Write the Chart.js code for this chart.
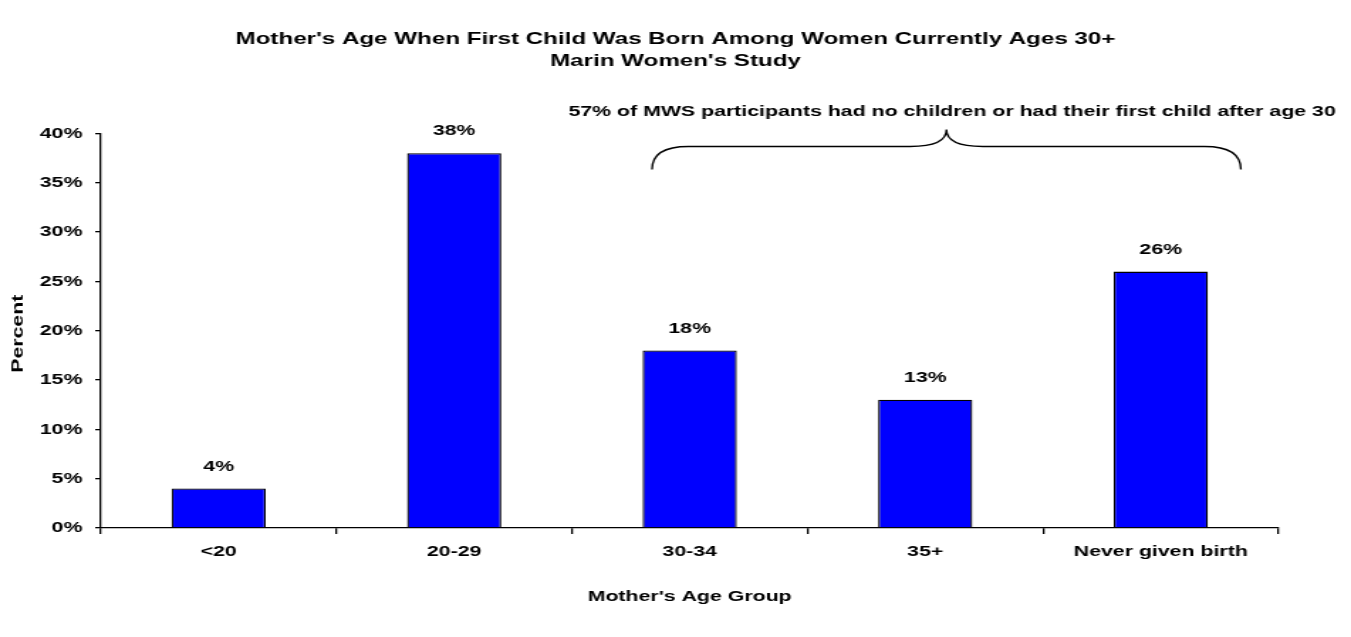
<!DOCTYPE html>
<html>
<head>
<meta charset="utf-8">
<script src="https://cdn.jsdelivr.net/npm/chart.js@4/dist/chart.umd.min.js"></script>
<style>
  html, body { margin: 0; padding: 0; background: #fff; }
  #wrap { width: 1351px; height: 637px; position: relative; overflow: hidden; }
  /* the original chart uses a wide lettering, so the canvas is drawn narrow and widened */
  #chart { display: block; }
</style>
</head>
<body>
<div id="wrap"><canvas id="chart" width="951" height="637" style="width:1351px;height:637px"></canvas></div>
<script>
// Mother's age at first birth - Marin Women's Study

const categories = ['<20', '20-29', '30-34', '35+', 'Never given birth'];
const percents = [4, 38, 18, 13, 26];
const yTicks = [0, 5, 10, 15, 20, 25, 30, 35, 40];

const titleLines = [
    "Mother's Age When First Child Was Born Among Women Currently Ages 30+",
    "Marin Women's Study"
];
const braceNote = '57% of MWS participants had no children or had their first child after age 30';
const yTitle = 'Percent';

const FONT = '"Liberation Sans", Arial, sans-serif';
const STRETCH = 1351 / 951;

// value labels above each bar
const barLabels = {
    id: 'barLabels',
    afterDatasetsDraw(chart) {
        const ctx = chart.ctx;
        const meta = chart.getDatasetMeta(0);
        ctx.save();
        ctx.font = 'bold 15px ' + FONT;
        ctx.fillStyle = '#000';
        ctx.textAlign = 'center';
        ctx.textBaseline = 'middle';
        meta.data.forEach((bar, i) => {
            ctx.fillText(percents[i] + '%', bar.x, bar.y - 22);
        });
        ctx.restore();
    }
};

// rotated y title, kept wide along its length like the rest of the text
const yTitlePlugin = {
    id: 'yTitle',
    afterDraw(chart) {
        const ctx = chart.ctx;
        const area = chart.chartArea;
        ctx.save();
        ctx.translate(12.7, (area.top + area.bottom) / 2 + 3);
        ctx.rotate(-Math.PI / 2);
        ctx.scale(STRETCH, 1 / STRETCH);
        ctx.font = 'bold 15px ' + FONT;
        ctx.fillStyle = '#000';
        ctx.textAlign = 'center';
        ctx.textBaseline = 'middle';
        ctx.fillText(yTitle, 0, 0);
        ctx.restore();
    }
};

// curly brace over the last three groups plus its note
const braceNotePlugin = {
    id: 'braceNote',
    afterDraw(chart) {
        const ctx = chart.ctx;
        const x = chart.scales.x;
        const step = x.getPixelForValue(1) - x.getPixelForValue(0);
        const left = x.getPixelForValue(2) - step * 0.16;
        const right = x.getPixelForValue(4) + step * 0.34;
        const mid = (left + right) / 2;
        const top = chart.chartArea.top;
        const yBottom = top + 36;
        const yLine = top + 13;
        const yTip = top - 4;
        const r = 16;

        ctx.save();
        ctx.strokeStyle = '#000';
        ctx.lineWidth = 1.3;
        ctx.beginPath();
        ctx.moveTo(left, yBottom);
        ctx.quadraticCurveTo(left, yLine, left + r * 1.6, yLine);
        ctx.lineTo(mid - r * 1.6, yLine);
        ctx.quadraticCurveTo(mid, yLine, mid, yTip);
        ctx.quadraticCurveTo(mid, yLine, mid + r * 1.6, yLine);
        ctx.lineTo(right - r * 1.6, yLine);
        ctx.quadraticCurveTo(right, yLine, right, yBottom);
        ctx.stroke();

        ctx.font = 'bold 15px ' + FONT;
        ctx.fillStyle = '#000';
        ctx.textAlign = 'center';
        ctx.textBaseline = 'middle';
        ctx.fillText(braceNote, mid + 4, top - 22);
        ctx.restore();
    }
};

new Chart(document.getElementById('chart'), {
    type: 'bar',
    data: {
        labels: categories,
        datasets: [{
            data: percents,
            backgroundColor: '#0000FF',
            borderColor: '#000',
            borderWidth: 1.3,
            barPercentage: 0.8,
            categoryPercentage: 0.5
        }]
    },
    options: {
        responsive: false,
        animation: false,
        layout: { padding: { left: 0, right: 0, top: 0, bottom: 31 } },
        plugins: {
            legend: { display: false },
            tooltip: { enabled: false },
            title: {
                display: true,
                text: titleLines,
                color: '#000',
                font: { family: FONT, size: 17, weight: 'bold', lineHeight: 1.25 },
                padding: { top: 29, bottom: 62 }
            }
        },
        scales: {
            x: {
                grid: {
                    display: true,
                    drawOnChartArea: false,
                    drawTicks: true,
                    tickLength: 6,
                    color: '#000',
                    lineWidth: 1.3
                },
                border: { display: true, color: '#000', width: 1.3 },
                ticks: {
                    color: '#000',
                    padding: 9,
                    maxRotation: 0,
                    font: { family: FONT, size: 15, weight: 'bold' }
                },
                title: {
                    display: true,
                    text: "Mother's Age Group",
                    color: '#000',
                    padding: { top: 0, bottom: 0 },
                    font: { family: FONT, size: 15, weight: 'bold' }
                },
                afterFit(scale) { scale.height = 78; }
            },
            y: {
                min: 0,
                max: 40,
                afterBuildTicks(scale) {
                    scale.ticks = yTicks.map(v => ({ value: v }));
                },
                grid: {
                    display: true,
                    drawOnChartArea: false,
                    drawTicks: true,
                    tickLength: 4,
                    color: '#000',
                    lineWidth: 1.3
                },
                border: { display: true, color: '#000', width: 1.3 },
                ticks: {
                    color: '#000',
                    padding: 9,
                    font: { family: FONT, size: 15, weight: 'bold' },
                    callback: v => v + '%'
                },
                afterFit(scale) { scale.width = 71; }
            },
            // empty spacer on the right so the title stays centred on the page
            spacer: {
                type: 'linear',
                position: 'right',
                grid: { display: false },
                border: { display: false },
                ticks: { display: false },
                afterFit(scale) { scale.width = 51; }
            }
        }
    },
    plugins: [barLabels, yTitlePlugin, braceNotePlugin]
});
</script>
</body>
</html>
